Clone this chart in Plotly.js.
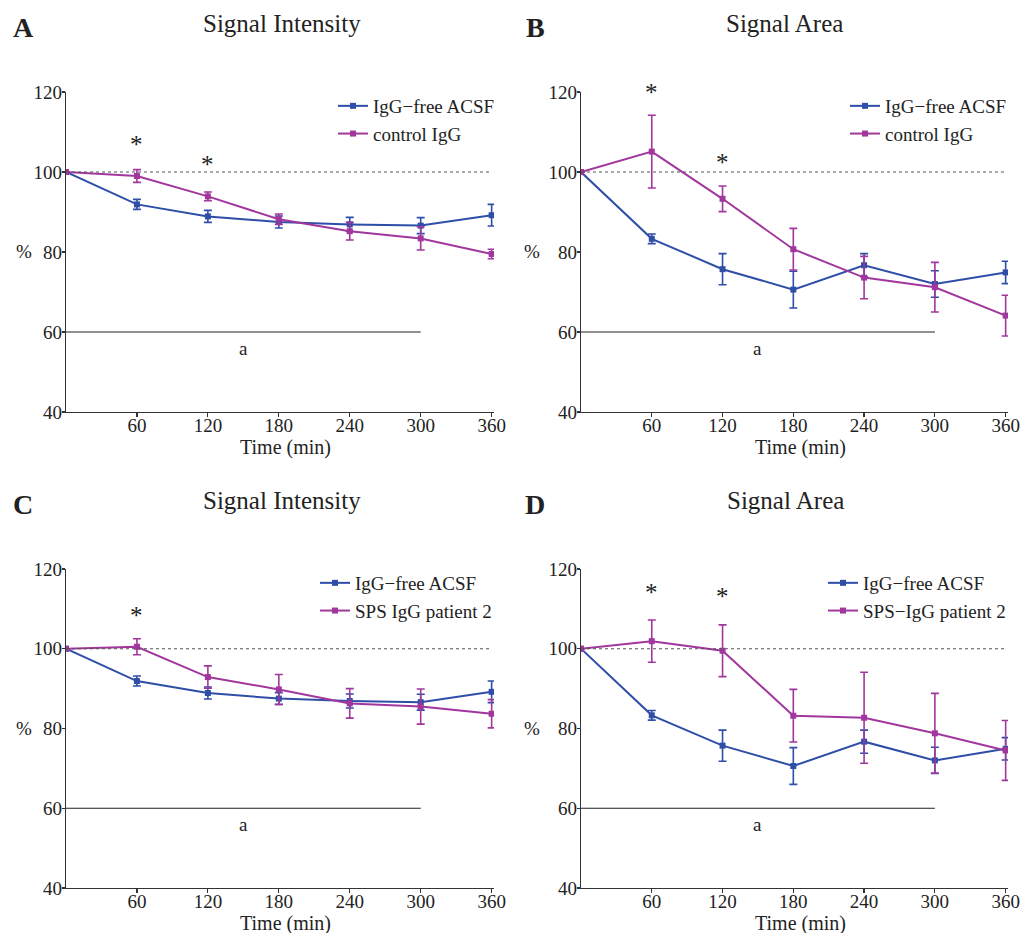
<!DOCTYPE html>
<html>
<head>
<meta charset="utf-8">
<script src="https://cdn.plot.ly/plotly-3.0.1.min.js"></script>
<style>html,body{margin:0;padding:0;background:#fff;}#chart{width:1021px;height:933px;}</style>
</head>
<body>
<div id="chart"></div>
<script>
// ---- data ----
const times = [0, 60, 120, 180, 240, 300, 360];
const xTickVals = [60, 120, 180, 240, 300, 360];
const yTickVals = [40, 60, 80, 100, 120];

const acsfIntensity    = [100, 91.9, 88.9, 87.5, 86.9, 86.6, 89.2];
const acsfIntensityErr = [0, 1.25, 1.5, 1.5, 1.75, 2.0, 2.7];
const controlIntensity    = [100, 99.0, 93.9, 88.2, 85.2, 83.4, 79.5];
const controlIntensityErr = [0, 1.6, 1.1, 1.3, 2.2, 2.9, 1.2];

const acsfArea    = [100, 83.3, 75.7, 70.6, 76.7, 72.0, 74.9];
const acsfAreaErr = [0, 1.2, 3.9, 4.6, 2.9, 3.3, 2.8];
const controlArea    = [100, 105.1, 93.3, 80.7, 73.6, 71.2, 64.1];
const controlAreaErr = [0, 9.1, 3.2, 5.2, 5.3, 6.2, 5.1];

const spsIntensity    = [100, 100.5, 92.9, 89.8, 86.3, 85.5, 83.7];
const spsIntensityErr = [0, 2.0, 2.8, 3.75, 3.7, 4.4, 3.55];
const spsArea    = [100, 101.9, 99.5, 83.2, 82.7, 78.8, 74.5];
const spsAreaErr = [0, 5.3, 6.5, 6.6, 11.4, 10.0, 7.5];

const panelLetters = ['A', 'B', 'C', 'D'];
const panelTitles = ['Signal Intensity', 'Signal Area', 'Signal Intensity', 'Signal Area'];
const seriesNames = [
  ['IgG\u2212free ACSF', 'control IgG'],
  ['IgG\u2212free ACSF', 'control IgG'],
  ['IgG\u2212free ACSF', 'SPS IgG patient 2'],
  ['IgG\u2212free ACSF', 'SPS\u2212IgG patient 2']
];
const xTitle = 'Time (min)';
const yTitle = '%';

// ---- styling / layout ----
const W = 1021, H = 933;
const BLUE = '#2f4ea8', MAG = '#a1379d';
const FONT = 'Liberation Serif, DejaVu Serif, serif';
const TXT = '#222';

const panelData = [
  [[acsfIntensity, acsfIntensityErr], [controlIntensity, controlIntensityErr]],
  [[acsfArea, acsfAreaErr], [controlArea, controlAreaErr]],
  [[acsfIntensity, acsfIntensityErr], [spsIntensity, spsIntensityErr]],
  [[acsfArea, acsfAreaErr], [spsArea, spsAreaErr]]
];
// pixel geometry of each plot area: [left, right, top, bottom]
const geo = [
  [66, 494, 92, 412],
  [581, 1008, 92, 412],
  [66, 494, 569, 888],
  [581, 1008, 569, 888]
];
const legendLeft = [333, 845, 315, 823];
const titleX = [282, 784, 282, 785];
const letterX = [23, 535, 23, 535];
const pctX = [24, 532, 24, 532];
const stars = [
  [[60, 107.5], [120, 102.5]],
  [[60, 120.5], [120, 103]],
  [[60, 108.9]],
  [[60, 114.7], [120, 113.5]]
];

const px = v => v / W;
const py = v => 1 - v / H;

const traces = [];
const layout = {
  width: W, height: H,
  margin: {l: 0, r: 0, t: 0, b: 0},
  paper_bgcolor: '#fff', plot_bgcolor: '#fff',
  font: {family: FONT, color: TXT, size: 18},
  showlegend: true,
  annotations: [], shapes: []
};

function note(xref, yref, x, y, text, size) {
  return {xref: xref, yref: yref, x: x, y: y, text: text, showarrow: false,
    xanchor: 'center', yanchor: 'middle', font: {size: size, family: FONT, color: TXT}};
}

for (let i = 0; i < 4; i++) {
  const s = i === 0 ? '' : String(i + 1);
  const xa = 'x' + s, ya = 'y' + s;
  const [l, r, t, b] = geo[i];
  const legendId = i === 0 ? 'legend' : 'legend' + (i + 1);
  [BLUE, MAG].forEach((col, k) => {
    traces.push({
      type: 'scatter', mode: 'lines+markers',
      x: times, y: panelData[i][k][0],
      error_y: {type: 'data', array: panelData[i][k][1], visible: true, color: col, thickness: 1.6, width: 4},
      line: {color: col, width: 2},
      marker: {color: col, symbol: 'square', size: 6},
      name: seriesNames[i][k],
      xaxis: xa, yaxis: ya, legend: legendId
    });
  });
  layout['xaxis' + s] = {
    domain: [px(l), px(r)], range: [0, 362], anchor: ya,
    tickvals: xTickVals, ticks: 'outside', ticklen: 4, tickwidth: 1.2, tickcolor: '#333',
    showline: true, linecolor: '#333', linewidth: 1.3, showgrid: false, zeroline: false,
    tickfont: {size: 19, family: FONT, color: TXT}, ticklabelstandoff: -8
  };
  layout['yaxis' + s] = {
    domain: [py(b), py(t)], range: [40, 120], anchor: xa,
    tickvals: yTickVals, ticks: 'outside', ticklen: 3, tickwidth: 1.2, tickcolor: '#333',
    showline: true, linecolor: '#333', linewidth: 1.3, showgrid: false, zeroline: false,
    tickfont: {size: 19, family: FONT, color: TXT}, ticklabelstandoff: -4
  };
  layout[legendId] = {
    x: px(legendLeft[i]), y: py(t - 5), xanchor: 'left', yanchor: 'top',
    bgcolor: 'rgba(0,0,0,0)', font: {size: 19, family: FONT, color: TXT},
    itemwidth: 30, tracegroupgap: 0
  };
  // reference lines
  layout.shapes.push({type: 'line', xref: xa, yref: ya, x0: 0, x1: 360, y0: 100, y1: 100,
    line: {color: '#555', width: 1, dash: '3px,3px'}});
  layout.shapes.push({type: 'line', xref: xa, yref: ya, x0: 0, x1: 300, y0: 60, y1: 60,
    line: {color: '#222', width: 1.2}});
  // texts
  layout.annotations.push(note(xa, ya, 150, 56, 'a', 19));
  stars[i].forEach(p => layout.annotations.push(note(xa, ya, p[0], p[1] - 0.5, '*', 25)));
  layout.annotations.push(note('paper', 'paper', px(pctX[i]), py((t + b) / 2), yTitle, 19));
  layout.annotations.push(note('paper', 'paper', px(titleX[i]), py(t - 68), panelTitles[i], 25));
  layout.annotations.push(note('paper', 'paper', px(letterX[i]), py(t - 65), '<b>' + panelLetters[i] + '</b>', 28));
  layout.annotations.push(note('paper', 'paper', px(l + 219), py(b + 35), xTitle, 20));
}

Plotly.newPlot('chart', traces, layout, {displayModeBar: false, staticPlot: true});
</script>
</body>
</html>
